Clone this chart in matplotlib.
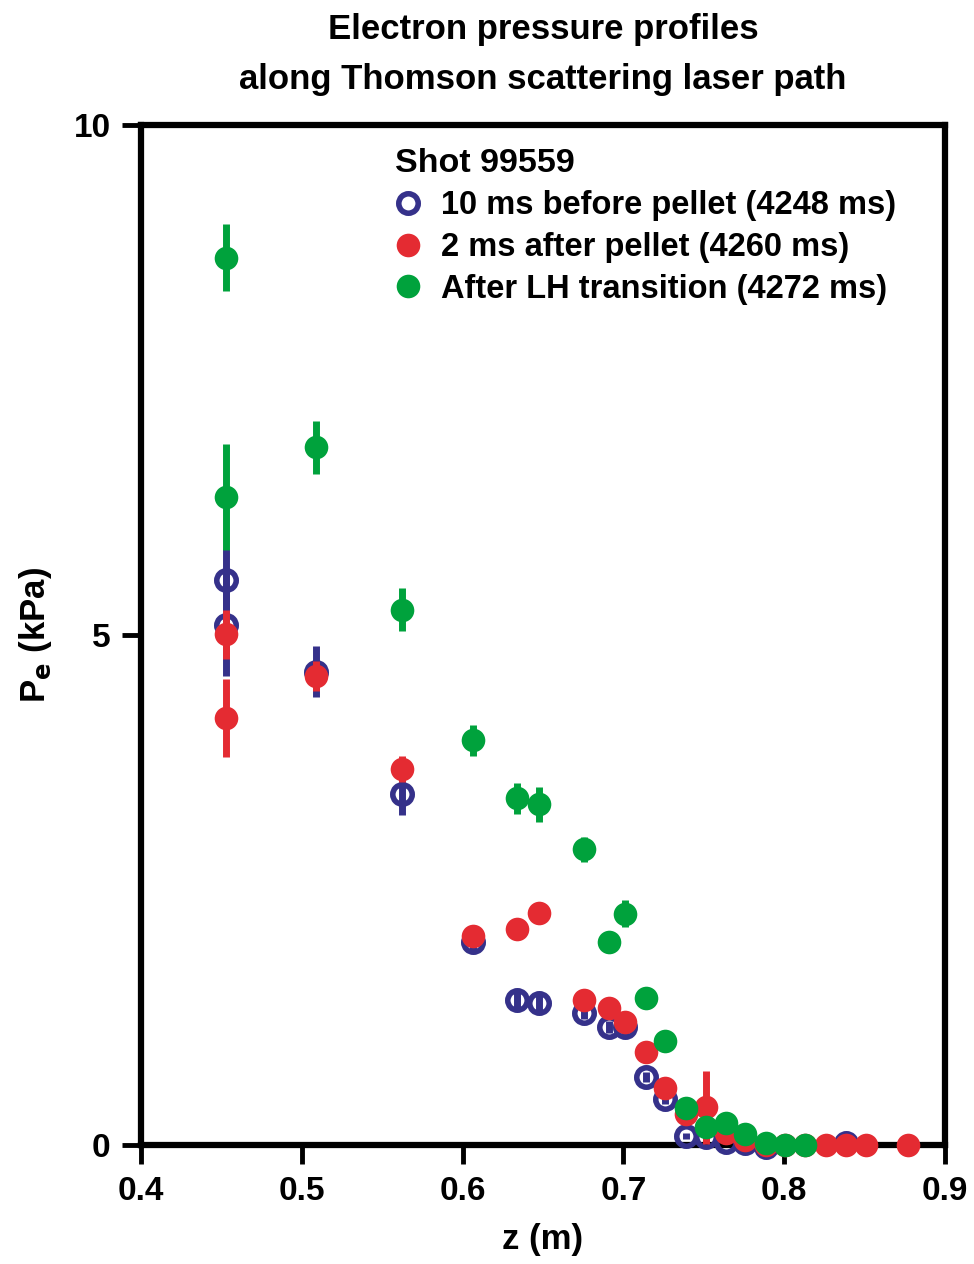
import matplotlib.pyplot as plt

plt.rcParams['font.family'] = ['Liberation Sans', 'DejaVu Sans']
plt.rcParams['font.weight'] = 'bold'

# data
z_before = [0.4525, 0.4525, 0.509, 0.5624, 0.6065, 0.634, 0.6476, 0.6755, 0.691,
            0.7009, 0.7143, 0.7262, 0.7392, 0.7512, 0.7641, 0.776, 0.7889, 0.8386]
pe_before = [5.54, 5.10, 4.64, 3.44, 1.99, 1.42, 1.39, 1.30, 1.16,
             1.16, 0.67, 0.45, 0.09, 0.08, 0.03, 0.02, -0.02, 0.02]
err_before = [0.30, 0.50, 0.25, 0.20, 0.08, 0.08, 0.10, 0.06, 0.06,
              0.08, 0.05, 0.05, 0.03, 0.03, 0.02, 0.02, 0.02, 0.02]

z_after = [0.4525, 0.4525, 0.509, 0.5624, 0.6065, 0.634, 0.6476, 0.6755, 0.691,
           0.7009, 0.7143, 0.7262, 0.7392, 0.7512, 0.7641, 0.776, 0.7889, 0.8007,
           0.8133, 0.8262, 0.8386, 0.851, 0.8769]
pe_after = [5.01, 4.19, 4.60, 3.69, 2.05, 2.12, 2.28, 1.42, 1.34,
            1.21, 0.91, 0.56, 0.31, 0.37, 0.12, 0.05, 0.0, 0.0,
            0.0, 0.0, 0.0, 0.0, 0.0]
err_after = [0.24, 0.38, 0.15, 0.13, 0.05, 0.05, 0.05, 0.05, 0.05,
             0.05, 0.04, 0.04, 0.03, 0.36, 0.02, 0.02, 0.02, 0.02,
             0.02, 0.02, 0.02, 0.02, 0.02]

z_lh = [0.4525, 0.4525, 0.509, 0.5624, 0.6065, 0.634, 0.6476, 0.6755, 0.691,
        0.7009, 0.7143, 0.7262, 0.7392, 0.7512, 0.7641, 0.776, 0.7889, 0.8007, 0.8133]
pe_lh = [8.70, 6.35, 6.84, 5.25, 3.97, 3.40, 3.34, 2.90, 1.99,
         2.27, 1.44, 1.02, 0.36, 0.18, 0.22, 0.11, 0.02, 0.0, 0.0]
err_lh = [0.33, 0.52, 0.26, 0.21, 0.15, 0.15, 0.17, 0.12, 0.03,
          0.13, 0.03, 0.03, 0.03, 0.03, 0.02, 0.02, 0.02, 0.02, 0.02]

labels = ["10 ms before pellet (4248 ms)",
          "2 ms after pellet (4260 ms)",
          "After LH transition (4272 ms)"]

blue = "#35318a"
red = "#e42b32"
green = "#00a23c"

fig = plt.figure(figsize=(9.74, 12.64), dpi=100)
ax = fig.add_axes([0.145, 0.094, 0.825, 0.807])

# blue: hollow circles
ax.errorbar(z_before, pe_before, yerr=err_before, fmt='none', ecolor=blue,
            elinewidth=5, capsize=0, zorder=3, clip_on=False)
ax.plot(z_before, pe_before, 'o', ms=14, mfc='none', mec=blue, mew=4,
        label=labels[0], zorder=4, clip_on=False)

# red: filled circles
ax.errorbar(z_after, pe_after, yerr=err_after, fmt='none', ecolor=red,
            elinewidth=5, capsize=0, zorder=5, clip_on=False)
ax.plot(z_after, pe_after, 'o', ms=17, color=red, mew=0,
        label=labels[1], zorder=6, clip_on=False)

# green: filled circles
ax.errorbar(z_lh, pe_lh, yerr=err_lh, fmt='none', ecolor=green,
            elinewidth=5, capsize=0, zorder=7, clip_on=False)
ax.plot(z_lh, pe_lh, 'o', ms=17, color=green, mew=0,
        label=labels[2], zorder=8, clip_on=False)

ax.set_xlim(0.4, 0.9)
ax.set_ylim(0, 10)
ax.set_xticks([0.4, 0.5, 0.6, 0.7, 0.8, 0.9])
ax.set_yticks([0, 5, 10])

for s in ax.spines.values():
    s.set_linewidth(4.5)
ax.tick_params(direction='out', length=14, width=3.5, labelsize=24, pad=8)

ax.set_xlabel("z (m)", fontsize=25, fontweight='bold', labelpad=12)
ax.set_ylabel("P$_\\mathbf{e}$ (kPa)", fontsize=25, fontweight='bold', labelpad=14)
ax.set_title("Electron pressure profiles\nalong Thomson scattering laser path",
             fontsize=25, fontweight='bold', pad=26, linespacing=1.65)

leg = ax.legend(title="Shot 99559", loc='upper left', bbox_to_anchor=(0.3, 0.99),
                frameon=False, fontsize=23.5, title_fontsize=24.5, handlelength=0.8,
                handletextpad=0.6, labelspacing=0.33, alignment='left',
                borderaxespad=0.0)
leg.get_title().set_fontweight('bold')

fig.savefig("out.png", dpi=100)
